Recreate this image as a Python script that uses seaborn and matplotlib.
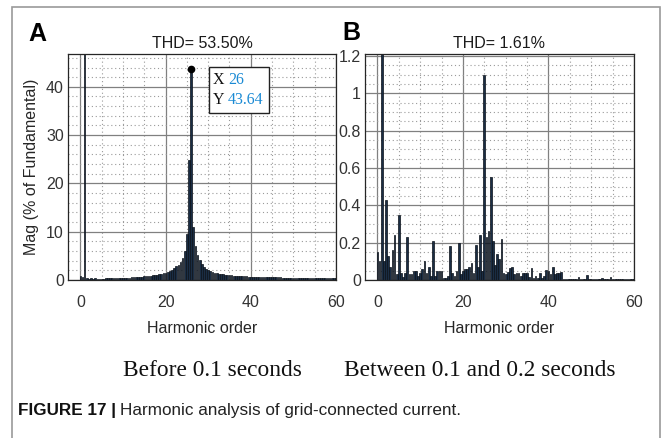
import numpy as np
import pandas as pd
import matplotlib
matplotlib.use("Agg")
import matplotlib.pyplot as plt
from matplotlib.patches import Rectangle
from matplotlib.ticker import MultipleLocator
import seaborn as sns

sns.set_theme(style="white")
plt.rcParams['font.family'] = ['Liberation Sans', 'DejaVu Sans']

# ---------------- data ----------------
harmonic_order = [i * 0.5 for i in range(121)]  # 0, 0.5, ..., 60

mag_before = [
    0.8, 0.6, 100.0, 0.5, 0.3, 0.4, 0.3, 0.4, 0.2, 0.3,          # 0 - 4.5
    0.25, 0.3, 0.35, 0.4, 0.5, 0.4, 0.35, 0.35, 0.4, 0.4,        # 5 - 9.5
    0.45, 0.45, 0.5, 0.5, 0.55, 0.55, 0.6, 0.6, 0.65, 0.7,       # 10 - 14.5
    0.75, 0.8, 0.85, 0.9, 0.95, 1.0, 1.1, 1.2, 1.3, 1.4,         # 15 - 19.5
    1.5, 1.7, 1.9, 2.1, 2.4, 2.8, 3.2, 3.8, 4.6, 6.0,            # 20 - 24.5
    9.5, 24.8, 43.64, 11.0, 7.0, 5.2, 4.1, 3.3, 2.7, 2.3,        # 25 - 29.5
    2.0, 1.8, 1.6, 1.5, 1.4, 1.3, 1.2, 1.15, 1.1, 1.05,          # 30 - 34.5
    1.0, 0.95, 0.9, 0.88, 0.85, 0.82, 0.8, 0.78, 0.75, 0.72,     # 35 - 39.5
    0.7, 0.68, 0.66, 0.65, 0.64, 0.62, 0.6, 0.59, 0.58, 0.57,    # 40 - 44.5
    0.56, 0.55, 0.54, 0.53, 0.52, 0.51, 0.5, 0.49, 0.48, 0.47,   # 45 - 49.5
    0.46, 0.45, 0.45, 0.44, 0.43, 0.43, 0.42, 0.41, 0.41, 0.4,   # 50 - 54.5
    0.4, 0.39, 0.38, 0.38, 0.37, 0.37, 0.36, 0.36, 0.35, 0.35,   # 55 - 59.5
    0.34,                                                         # 60
]

mag_between = [
    0.15, 0.10, 100.0, 0.10, 0.43, 0.13, 0.07, 0.16, 0.24, 0.03,   # 0 - 4.5
    0.35, 0.04, 0.015, 0.04, 0.23, 0.03, 0.03, 0.05, 0.05, 0.02,   # 5 - 9.5
    0.04, 0.06, 0.10, 0.04, 0.07, 0.02, 0.21, 0.02, 0.05, 0.05,    # 10 - 14.5
    0.05, 0.01, 0.01, 0.02, 0.18, 0.04, 0.02, 0.05, 0.20, 0.03,    # 15 - 19.5
    0.05, 0.06, 0.06, 0.07, 0.09, 0.04, 0.19, 0.07, 0.24, 0.05,    # 20 - 24.5
    1.10, 0.23, 0.26, 0.55, 0.21, 0.08, 0.14, 0.11, 0.22, 0.035,   # 25 - 29.5
    0.03, 0.045, 0.065, 0.07, 0.03, 0.035, 0.04, 0.02, 0.035, 0.04, # 30 - 34.5
    0.035, 0.015, 0.065, 0.01, 0.02, 0.01, 0.04, 0.01, 0.02, 0.054, # 35 - 39.5
    0.05, 0.03, 0.07, 0.03, 0.04, 0.035, 0.045, 0.005, 0.005, 0.004, # 40 - 44.5
    0.004, 0.004, 0.005, 0.004, 0.018, 0.004, 0.005, 0.004, 0.025, 0.004, # 45 - 49.5
    0.004, 0.003, 0.004, 0.003, 0.004, 0.012, 0.003, 0.004, 0.003, 0.014, # 50 - 54.5
    0.003, 0.003, 0.004, 0.003, 0.003, 0.003, 0.003, 0.003, 0.003, 0.003, # 55 - 59.5
    0.003,                                                          # 60
]

thd_before = "THD= 53.50%"
thd_between = "THD= 1.61%"
tip_x, tip_y = 26, 43.64

yticks_a = [0, 10, 20, 30, 40]
yticks_b = [0, 0.2, 0.4, 0.6, 0.8, 1.0, 1.2]
yticklabels_b = ["0", "0.2", "0.4", "0.6", "0.8", "1", "1.2"]
xticks = [0, 20, 40, 60]

df_a = pd.DataFrame({"h": harmonic_order, "mag": mag_before})
df_b = pd.DataFrame({"h": harmonic_order, "mag": mag_between})

# ---------------- figure ----------------
W, H = 664, 438
fig = plt.figure(figsize=(W / 100, H / 100), dpi=100)
fig.patch.set_facecolor("white")

def px_rect(l, t, r, b):
    return [l / W, 1 - b / H, (r - l) / W, (b - t) / H]

ax_a = fig.add_axes(px_rect(68, 54, 336, 280))
ax_b = fig.add_axes(px_rect(365, 54, 634, 280))

bar_face = "#1a2d44"
bar_edge = "#0a1018"
tick_color = "#333333"

for ax, df in ((ax_a, df_a), (ax_b, df_b)):
    sns.barplot(data=df, x="h", y="mag", native_scale=True, ax=ax,
                color=bar_face, edgecolor=bar_edge, linewidth=0.5,
                width=0.8, errorbar=None, saturation=1)
    ax.set_xlim(-2.9, 60)
    ax.set_xticks(xticks)
    ax.set_xticklabels([str(t) for t in xticks])
    ax.xaxis.set_minor_locator(MultipleLocator(5))
    ax.set_axisbelow(True)
    ax.grid(which="major", color="#808080", linewidth=0.9, linestyle="-")
    ax.grid(which="minor", color="#9a9a9a", linewidth=0.8, linestyle=(0, (1, 2.5)))
    ax.tick_params(which="both", direction="in", length=0, colors=tick_color,
                   labelsize=11.5, pad=11)
    ax.tick_params(axis="y", pad=3)
    for s in ax.spines.values():
        s.set_color("#262626")
        s.set_linewidth(0.9)
    ax.set_xlabel("Harmonic order", fontsize=11.5, color="#262626", labelpad=8)
    ax.set_facecolor("white")

ax_a.set_ylim(0, 46.8)
ax_a.set_yticks(yticks_a)
ax_a.set_yticklabels([str(t) for t in yticks_a])
ax_a.yaxis.set_minor_locator(MultipleLocator(2))
ax_a.set_ylabel("Mag (% of Fundamental)", fontsize=11.5, color="#262626", labelpad=5)
ax_a.set_title(thd_before, fontsize=11.5, color="#1a1a1a", pad=4)

ax_b.set_ylim(0, 1.21)
ax_b.set_yticks(yticks_b)
ax_b.set_yticklabels(yticklabels_b)
ax_b.yaxis.set_minor_locator(MultipleLocator(0.05))
ax_b.set_ylabel("")
ax_b.set_title(thd_between, fontsize=11.5, color="#1a1a1a", pad=4)

# data tip on panel A
ax_a.plot([tip_x], [tip_y], marker="o", color="black", markersize=4.5, zorder=6)
box = Rectangle((tip_x + 4.1, tip_y - 9.0), 14.1, 9.5, facecolor="white",
                edgecolor="#222222", linewidth=1.0, zorder=7)
ax_a.add_patch(box)
serif = ['Liberation Serif', 'DejaVu Serif']
ax_a.text(tip_x + 5.0, tip_y - 2.3, "X", family=serif, fontsize=11.5,
          color="#111111", va="center", ha="left", zorder=8)
ax_a.text(tip_x + 8.6, tip_y - 2.3, f"{tip_x}", family=serif, fontsize=11.5,
          color="#1a8ad4", va="center", ha="left", zorder=8)
ax_a.text(tip_x + 5.0, tip_y - 6.3, "Y", family=serif, fontsize=11.5,
          color="#111111", va="center", ha="left", zorder=8)
ax_a.text(tip_x + 8.6, tip_y - 6.3, f"{tip_y:.2f}", family=serif, fontsize=11.5,
          color="#1a8ad4", va="center", ha="left", zorder=8)

# panel letters
fig.text(28 / W, 1 - 34 / H, "A", fontsize=18, fontweight="bold", va="center", ha="left", color="black")
fig.text(342 / W, 1 - 33 / H, "B", fontsize=18, fontweight="bold", va="center", ha="left", color="black")

# sub captions
fig.text(212 / W, 1 - 370 / H, "Before 0.1 seconds", family=serif, fontsize=16.8,
         ha="center", va="center", color="#111111")
fig.text(480 / W, 1 - 370 / H, "Between 0.1 and 0.2 seconds", family=serif, fontsize=16.8,
         ha="center", va="center", color="#111111")

# figure caption
t1 = fig.text(18 / W, 1 - 411 / H, "FIGURE 17 |", fontsize=12.3, fontweight="bold",
              ha="left", va="center", color="#111111")
fig.canvas.draw()
bb = t1.get_window_extent()
fig.text((bb.x1 + 4) / W, 1 - 411 / H, "Harmonic analysis of grid-connected current.",
         fontsize=12.3, ha="left", va="center", color="#222222")

# outer frame
frame = Rectangle((12 / W, -0.05), (660 - 12) / W, (1 - 7 / H) + 0.05,
                  transform=fig.transFigure, fill=False, edgecolor="#9a9a9a",
                  linewidth=1.2, clip_on=False)
fig.patches.append(frame)

fig.savefig("out.png", dpi=100, facecolor="white")
